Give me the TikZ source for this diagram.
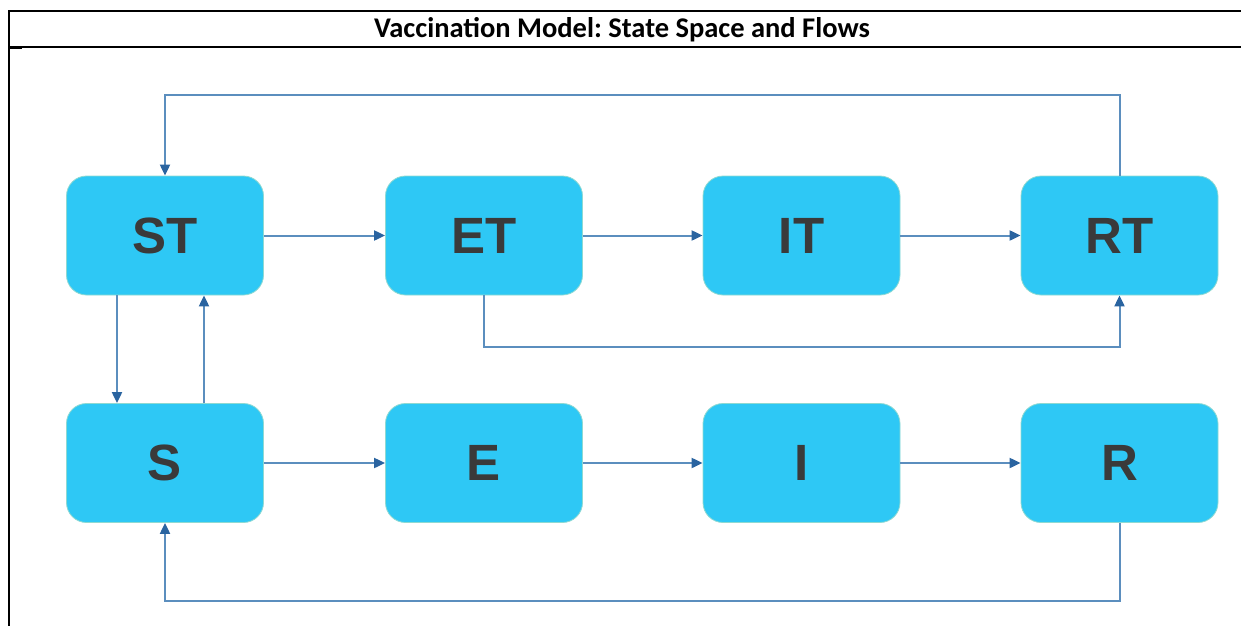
\documentclass[tikz,border=0pt]{standalone}
\usepackage{fontspec}
\setmainfont{Carlito}
\newfontfamily\boxfont{Liberation Sans}
\usetikzlibrary{arrows.meta}
\definecolor{boxfill}{HTML}{2EC8F5}
\definecolor{boxedge}{HTML}{8ED9D2}
\definecolor{flowline}{HTML}{5B8EBE}
\definecolor{flowhead}{HTML}{2A64A0}
\definecolor{labeltext}{HTML}{3A3A3A}
\frenchspacing
\begin{document}
\begin{tikzpicture}[x=1pt,y=-1pt,
  state/.style={draw=boxedge,line width=0.8pt,fill=boxfill,rounded corners=20pt,
    minimum width=197pt,minimum height=119pt,inner sep=0pt,
    font=\boxfont\bfseries\fontsize{51}{51}\selectfont,text=labeltext},
  flow/.style={draw=flowline,line width=2pt,
    -{Triangle[length=11pt,width=10pt,color=flowhead]}},
  frame/.style={draw=black,line width=2pt},
  rule/.style={draw=black,line width=1.2pt}]
\useasboundingbox (0,0) rectangle (1241,626);

% table frame and title row
\draw[frame] (1241,11) -- (9,11) -- (9,626);
\draw[rule] (9,47) -- (1241,47);
\draw[frame] (9,48) -- (22,48);
\node[font=\bfseries\fontsize{28.5}{28.5}\selectfont] (title) at (622,29.5)
  {Vaccination Model: State Space and Flows};

% states of the vaccinated row
\node[state] (ST) at (165,235.5) {ST};
\node[state] (ET) at (484,235.5) {ET};
\node[state] (IT) at (801.5,235.5) {IT};
\node[state] (RT) at (1119.5,235.5) {RT};
% states of the unvaccinated row
\node[state] (S) at (165,463) {S};
\node[state] (E) at (484,463) {E};
\node[state] (I) at (801.5,463) {I};
\node[state] (R) at (1119.5,463) {R};

% progression along each row
\draw[flow] (ST) -- (ET);
\draw[flow] (ET) -- (IT);
\draw[flow] (IT) -- (RT);
\draw[flow] (S) -- (E);
\draw[flow] (E) -- (I);
\draw[flow] (I) -- (R);

% vaccination and waning between rows
\draw[flow] ([xshift=-48pt]ST.south) -- ([xshift=-48pt]S.north);
\draw[flow] ([xshift=39pt]S.north) -- ([xshift=39pt]ST.south);

% exposed vaccinated straight to recovered
\coordinate (etlow) at (484,347);
\draw[flow] (ET.south) -- (etlow) -| (RT.south);

% return loops
\coordinate (toploop) at (1119.5,95);
\coordinate (botloop) at (1119.5,601);
\draw[flow] (RT.north) -- (toploop) -| (ST.north);
\draw[flow] (R.south) -- (botloop) -| (S.south);
\end{tikzpicture}
\end{document}
